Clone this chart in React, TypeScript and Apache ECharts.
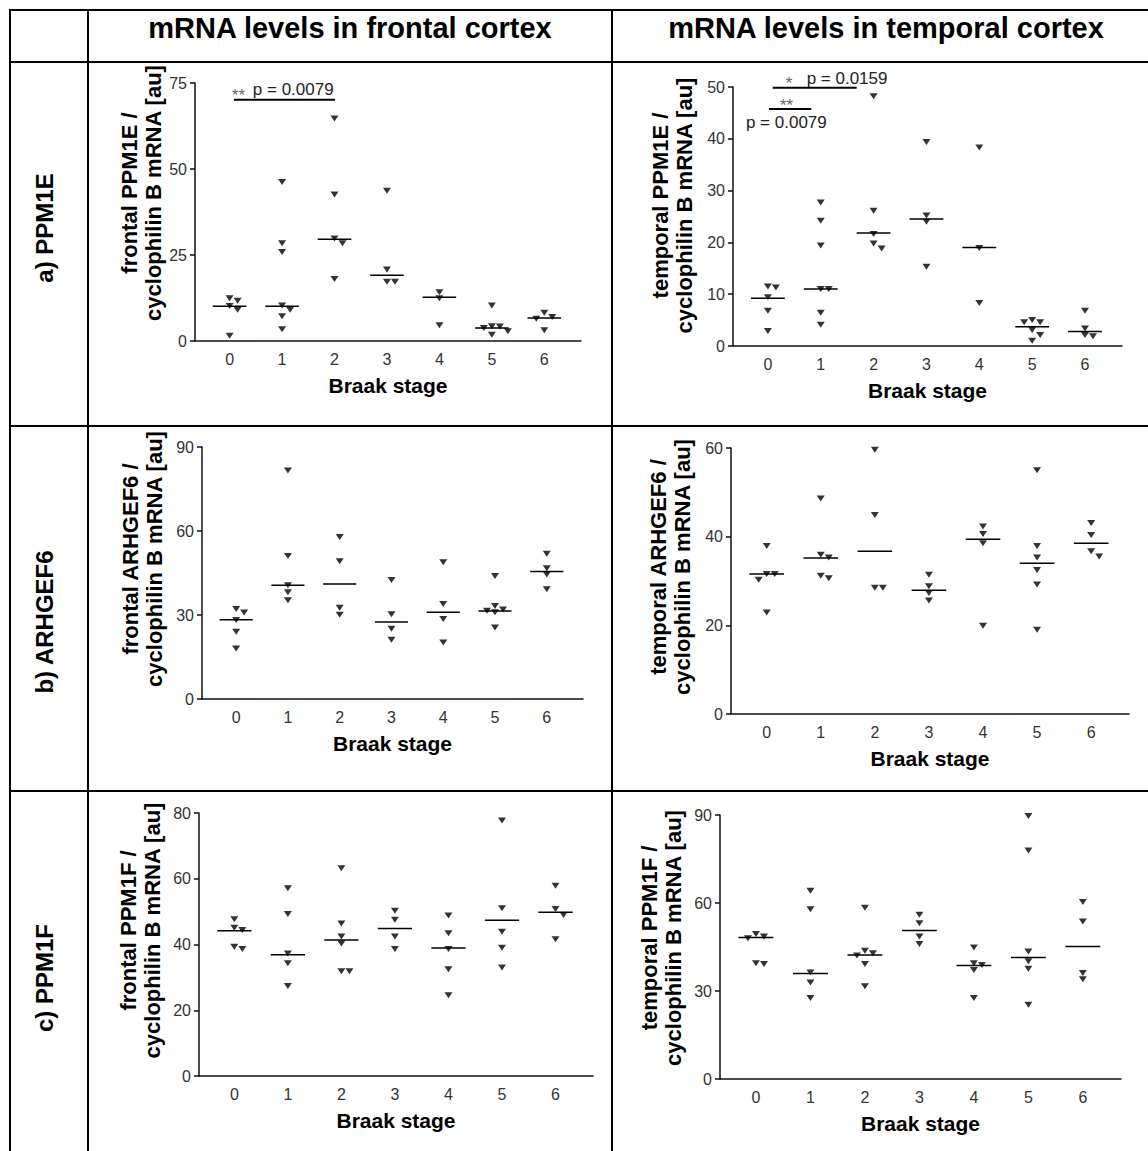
import React, { useEffect, useRef } from "react";
import * as echarts from "echarts";

const FONT = "'Liberation Sans', Arial, Helvetica, sans-serif";

const BRAAK_STAGES = ["0", "1", "2", "3", "4", "5", "6"];
const COLUMN_TITLES = ["mRNA levels in frontal cortex", "mRNA levels in temporal cortex"];
const ROW_TITLES = ["a) PPM1E", "b) ARHGEF6", "c) PPM1F"];
const X_TITLE = "Braak stage";

// ---- a) PPM1E, frontal ----
const frontalPPM1E = [
  [12.4, 11.7, 10.2, 9.1, 1.5],
  [46.2, 28.4, 25.9, 10.3, 9.1, 7.2, 3.4],
  [64.7, 42.6, 29.8, 28.4, 18.0],
  [43.7, 20.8, 17.2, 17.2],
  [14.2, 12.4, 4.6],
  [10.3, 4.3, 4.2, 3.8, 2.8, 1.8],
  [8.2, 7.0, 6.5, 3.1],
];
const frontalPPM1EMedian = [10.1, 10.1, 29.6, 19.1, 12.7, 3.8, 6.7];
const frontalPPM1ESigPairs = [[0.08, 2.01, 70.1]];
const frontalPPM1ESigLabels = [["**", "p = 0.0079"]];

// ---- a) PPM1E, temporal ----
const temporalPPM1E = [
  [11.5, 11.3, 9.4, 6.8, 2.9],
  [27.7, 24.2, 19.4, 11.0, 11.0, 6.4, 4.1],
  [48.2, 26.1, 21.6, 19.8, 18.8],
  [39.4, 25.2, 24.0, 15.3],
  [38.3, 18.9, 8.3],
  [5.0, 4.6, 4.6, 3.1, 2.1, 1.0],
  [6.8, 3.4, 2.1, 1.9],
];
const temporalPPM1EMedian = [9.2, 11.0, 21.8, 24.5, 19.0, 3.7, 2.8];
const temporalPPM1ESigPairs = [
  [0.09, 1.68, 49.86],
  [0.02, 0.82, 45.75],
];
const temporalPPM1ESigLabels = [
  ["*", "p = 0.0159"],
  ["**", "p = 0.0079"],
];

// ---- b) ARHGEF6, frontal ----
const frontalARHGEF6 = [
  [32.1, 30.9, 28.2, 24.0, 18.0],
  [81.6, 51.1, 40.6, 38.1, 35.3],
  [57.9, 49.2, 32.6, 30.1],
  [42.5, 30.3, 25.1, 21.2],
  [48.8, 33.9, 28.6, 20.2],
  [43.9, 33.2, 32.0, 31.5, 31.0, 25.5],
  [51.9, 46.7, 44.5, 39.2],
];
const frontalARHGEF6Median = [28.3, 40.6, 41.1, 27.5, 31.0, 31.4, 45.5];

// ---- b) ARHGEF6, temporal ----
const temporalARHGEF6 = [
  [37.9, 31.6, 31.6, 30.3, 22.9],
  [48.6, 35.9, 35.3, 31.2, 30.6],
  [59.6, 44.9, 28.5, 28.5],
  [31.4, 28.8, 27.3, 25.6],
  [42.3, 40.6, 38.5, 19.9],
  [55.0, 37.9, 35.3, 32.5, 29.2, 19.0],
  [43.1, 40.4, 36.7, 35.5],
];
const temporalARHGEF6Median = [31.6, 35.2, 36.7, 27.9, 39.4, 34.0, 38.5];

// ---- c) PPM1F, frontal ----
const frontalPPM1F = [
  [47.7, 45.1, 44.4, 39.3, 38.6],
  [57.1, 49.3, 37.3, 34.3, 27.4],
  [63.2, 46.4, 42.4, 40.3, 31.9, 31.9],
  [50.3, 47.5, 42.4, 38.6],
  [48.8, 43.4, 38.6, 32.5, 24.6],
  [77.7, 51.0, 43.9, 39.0, 33.0],
  [57.9, 50.8, 49.0, 41.6],
];
const frontalPPM1FMedian = [44.2, 36.9, 41.4, 44.9, 38.9, 47.4, 49.8];

// ---- c) PPM1F, temporal ----
const temporalPPM1F = [
  [49.4, 48.6, 48.0, 39.5, 39.2],
  [64.2, 57.9, 36.3, 32.9, 27.6],
  [58.4, 43.7, 42.9, 42.1, 39.2, 31.6],
  [56.0, 53.1, 48.6, 46.0],
  [44.8, 39.5, 38.9, 37.2, 27.6],
  [89.7, 77.9, 43.5, 40.1, 37.6, 25.3],
  [60.3, 53.7, 36.1, 34.0],
];
const temporalPPM1FMedian = [48.2, 36.0, 42.3, 50.6, 38.7, 41.4, 45.2];

// ---- layout (pixels) ----
const X_MIN = -0.66;
const X_MAX = 6.7;

type Panel = {
  values: number[][];
  medians: number[];
  yMax: number;
  yInterval: number;
  yName: string;
  grid: { left: number; top: number; width: number; height: number };
  nameGap: number;
  nameShift: number;
  sigPairs?: number[][];
  sigLabels?: string[][];
  sigOffsets?: number[][][]; // per pair: [[dx,dy] star, [dx,dy] p]
};

const PANELS: Panel[] = [
  {
    values: frontalPPM1E,
    medians: frontalPPM1EMedian,
    yMax: 75,
    yInterval: 25,
    yName: "frontal PPM1E /\ncyclophilin B mRNA [au]",
    grid: { left: 195, top: 83, width: 386, height: 258 },
    nameGap: 29,
    nameShift: 19,
    sigPairs: frontalPPM1ESigPairs,
    sigLabels: frontalPPM1ESigLabels,
    sigOffsets: [[[-2, -4], [19, -10]]],
  },
  {
    values: temporalPPM1E,
    medians: temporalPPM1EMedian,
    yMax: 50,
    yInterval: 10,
    yName: "temporal PPM1E /\ncyclophilin B mRNA [au]",
    grid: { left: 733, top: 87, width: 389, height: 259 },
    nameGap: 37,
    nameShift: 11,
    sigPairs: temporalPPM1ESigPairs,
    sigLabels: temporalPPM1ESigLabels,
    sigOffsets: [
      [[13, -4], [34, -9.4]],
      [[11, -4], [-23, 13]],
    ],
  },
  {
    values: frontalARHGEF6,
    medians: frontalARHGEF6Median,
    yMax: 90,
    yInterval: 30,
    yName: "frontal ARHGEF6 /\ncyclophilin B mRNA [au]",
    grid: { left: 202, top: 447, width: 381, height: 252 },
    nameGap: 36,
    nameShift: 14,
  },
  {
    values: temporalARHGEF6,
    medians: temporalARHGEF6Median,
    yMax: 60,
    yInterval: 20,
    yName: "temporal ARHGEF6 /\ncyclophilin B mRNA [au]",
    grid: { left: 731, top: 448, width: 398, height: 266 },
    nameGap: 37,
    nameShift: 14,
  },
  {
    values: frontalPPM1F,
    medians: frontalPPM1FMedian,
    yMax: 80,
    yInterval: 20,
    yName: "frontal PPM1F /\ncyclophilin B mRNA [au]",
    grid: { left: 199, top: 813, width: 394, height: 263 },
    nameGap: 35,
    nameShift: 14,
  },
  {
    values: temporalPPM1F,
    medians: temporalPPM1FMedian,
    yMax: 90,
    yInterval: 30,
    yName: "temporal PPM1F /\ncyclophilin B mRNA [au]",
    grid: { left: 720, top: 815, width: 401, height: 264 },
    nameGap: 35,
    nameShift: 9,
  },
];

// horizontal spreading of points that would overlap (column scatter)
function swarmOffsets(vals: number[], stepUnits: number, minDyUnits: number): number[] {
  const order = vals.map((_, i) => i).sort((a, b) => vals[b] - vals[a]);
  const placed: { k: number; v: number }[] = [];
  const offs = new Array(vals.length).fill(0);
  const cand = [0, 1, -1, 2, -2, 3, -3];
  for (const i of order) {
    const v = vals[i];
    for (const k of cand) {
      if (placed.every((p) => p.k !== k || Math.abs(p.v - v) >= minDyUnits)) {
        placed.push({ k, v });
        offs[i] = k * stepUnits;
        break;
      }
    }
  }
  return offs;
}

function buildOption() {
  const grids: any[] = [];
  const xAxes: any[] = [];
  const yAxes: any[] = [];
  const series: any[] = [];

  PANELS.forEach((p, i) => {
    grids.push({ ...p.grid, containLabel: false });
    const pxPerX = p.grid.width / (X_MAX - X_MIN);
    const pxPerY = p.grid.height / p.yMax;
    xAxes.push({
      type: "value",
      gridIndex: i,
      min: X_MIN,
      max: X_MAX,
      splitNumber: 7,
      axisLine: { show: true, onZero: false, lineStyle: { color: "#111", width: 1.5 } },
      axisTick: { show: false },
      splitLine: { show: false },
      axisLabel: {
        fontSize: 16,
        color: "#333",
        fontFamily: FONT,
        margin: 10,
        formatter: (v: number) => {
          const r = Math.round(v);
          return Math.abs(v - r) < 1e-6 && r >= 0 && r <= 6 ? BRAAK_STAGES[r] : "";
        },
      },
      name: X_TITLE,
      nameLocation: "middle",
      nameGap: 33,
      nameTextStyle: { fontSize: 21, fontWeight: "bold", color: "#000", fontFamily: FONT, lineHeight: 22 },
    });
    yAxes.push({
      type: "value",
      gridIndex: i,
      min: 0,
      max: p.yMax,
      interval: p.yInterval,
      axisLine: { show: true, onZero: false, lineStyle: { color: "#111", width: 1.5 } },
      axisTick: { show: true, length: 5, lineStyle: { color: "#111", width: 1.5 } },
      splitLine: { show: false },
      axisLabel: { fontSize: 16, color: "#333", fontFamily: FONT, margin: 8 },
      name: p.yName,
      nameLocation: "middle",
      nameRotate: 90,
      nameGap: p.nameGap,
      nameTextStyle: {
        fontSize: 22,
        fontWeight: "bold",
        color: "#000",
        fontFamily: FONT,
        lineHeight: 24,
        padding: [0, 0, 0, 2 * p.nameShift],
      },
    });

    const pts: number[][] = [];
    p.values.forEach((vals, st) => {
      const offs = swarmOffsets(vals, 8 / pxPerX, 6 / pxPerY);
      vals.forEach((v, j) => pts.push([st + offs[j], v]));
    });
    series.push({
      type: "scatter",
      xAxisIndex: i,
      yAxisIndex: i,
      data: pts,
      symbol: "path://M0,0 L10,0 L5,8 Z",
      symbolSize: [8, 6],
      itemStyle: { color: "#000" },
      silent: true,
    });
    series.push({
      type: "custom",
      xAxisIndex: i,
      yAxisIndex: i,
      data: p.medians.map((m, st) => [st, m]),
      silent: true,
      clip: false,
      renderItem: (_params: any, api: any) => {
        const st = api.value(0);
        const m = api.value(1);
        const a = api.coord([st - 0.32, m]);
        const b = api.coord([st + 0.32, m]);
        return {
          type: "line",
          shape: { x1: a[0], y1: a[1], x2: b[0], y2: b[1] },
          style: { stroke: "#000", lineWidth: 1.5 },
        };
      },
    });
    if (p.sigPairs && p.sigLabels && p.sigOffsets) {
      const labels = p.sigLabels;
      const offsets = p.sigOffsets;
      series.push({
        type: "custom",
        xAxisIndex: i,
        yAxisIndex: i,
        data: p.sigPairs,
        encode: { x: [0, 1], y: 2 },
        silent: true,
        clip: false,
        renderItem: (params: any, api: any) => {
          const k = params.dataIndex;
          const a = api.coord([api.value(0), api.value(2)]);
          const b = api.coord([api.value(1), api.value(2)]);
          const [star, ptxt] = labels[k];
          const [os, op] = offsets[k];
          return {
            type: "group",
            children: [
              {
                type: "line",
                shape: { x1: a[0], y1: a[1], x2: b[0], y2: b[1] },
                style: { stroke: "#000", lineWidth: 2 },
              },
              {
                type: "text",
                x: a[0] + os[0],
                y: a[1] + os[1],
                style: {
                  text: star,
                  fill: "#666",
                  fontSize: 17,
                  lineHeight: 11,
                  fontFamily: FONT,
                  align: "left",
                  verticalAlign: "middle",
                },
              },
              {
                type: "text",
                x: a[0] + op[0],
                y: a[1] + op[1],
                style: {
                  text: ptxt,
                  fill: "#222",
                  fontSize: 17,
                  lineHeight: 17,
                  fontFamily: FONT,
                  align: "left",
                  verticalAlign: "middle",
                },
              },
            ],
          };
        },
      });
    }
  });

  // table frame
  const V_LINES = [10, 88, 612, 1161];
  const H_LINES = [10, 62, 426, 791];
  const graphic: any[] = [];
  V_LINES.forEach((x) =>
    graphic.push({
      type: "line",
      shape: { x1: x, y1: 9, x2: x, y2: 1200 },
      style: { stroke: "#000", lineWidth: 2 },
      silent: true,
    })
  );
  H_LINES.forEach((y) =>
    graphic.push({
      type: "line",
      shape: { x1: 9, y1: y, x2: 1200, y2: y },
      style: { stroke: "#000", lineWidth: 2 },
      silent: true,
    })
  );
  const COL_CENTERS = [350, 886];
  COLUMN_TITLES.forEach((t, i) =>
    graphic.push({
      type: "text",
      x: COL_CENTERS[i],
      y: 28,
      silent: true,
      style: {
        text: t,
        fontSize: 29,
        fontWeight: "bold",
        fontFamily: FONT,
        fill: "#000",
        align: "center",
        verticalAlign: "middle",
      },
    })
  );
  const ROW_CENTERS = [228, 622, 978];
  ROW_TITLES.forEach((t, i) =>
    graphic.push({
      type: "text",
      x: 44,
      y: ROW_CENTERS[i],
      rotation: Math.PI / 2,
      silent: true,
      style: {
        text: t,
        fontSize: 24,
        fontWeight: "bold",
        fontFamily: FONT,
        fill: "#000",
        align: "center",
        verticalAlign: "middle",
      },
    })
  );

  return {
    animation: false,
    backgroundColor: "#fff",
    grid: grids,
    xAxis: xAxes,
    yAxis: yAxes,
    series,
    graphic,
  };
}

export default function App() {
  const ref = useRef<HTMLDivElement>(null);
  useEffect(() => {
    if (!ref.current) return;
    const chart = echarts.init(ref.current, null, { renderer: "svg" });
    chart.setOption(buildOption() as any);
    return () => chart.dispose();
  }, []);
  return (
    <div
      ref={ref}
      style={{ position: "absolute", left: 0, top: 0, width: 1148, height: 1151, background: "#fff" }}
    />
  );
}
